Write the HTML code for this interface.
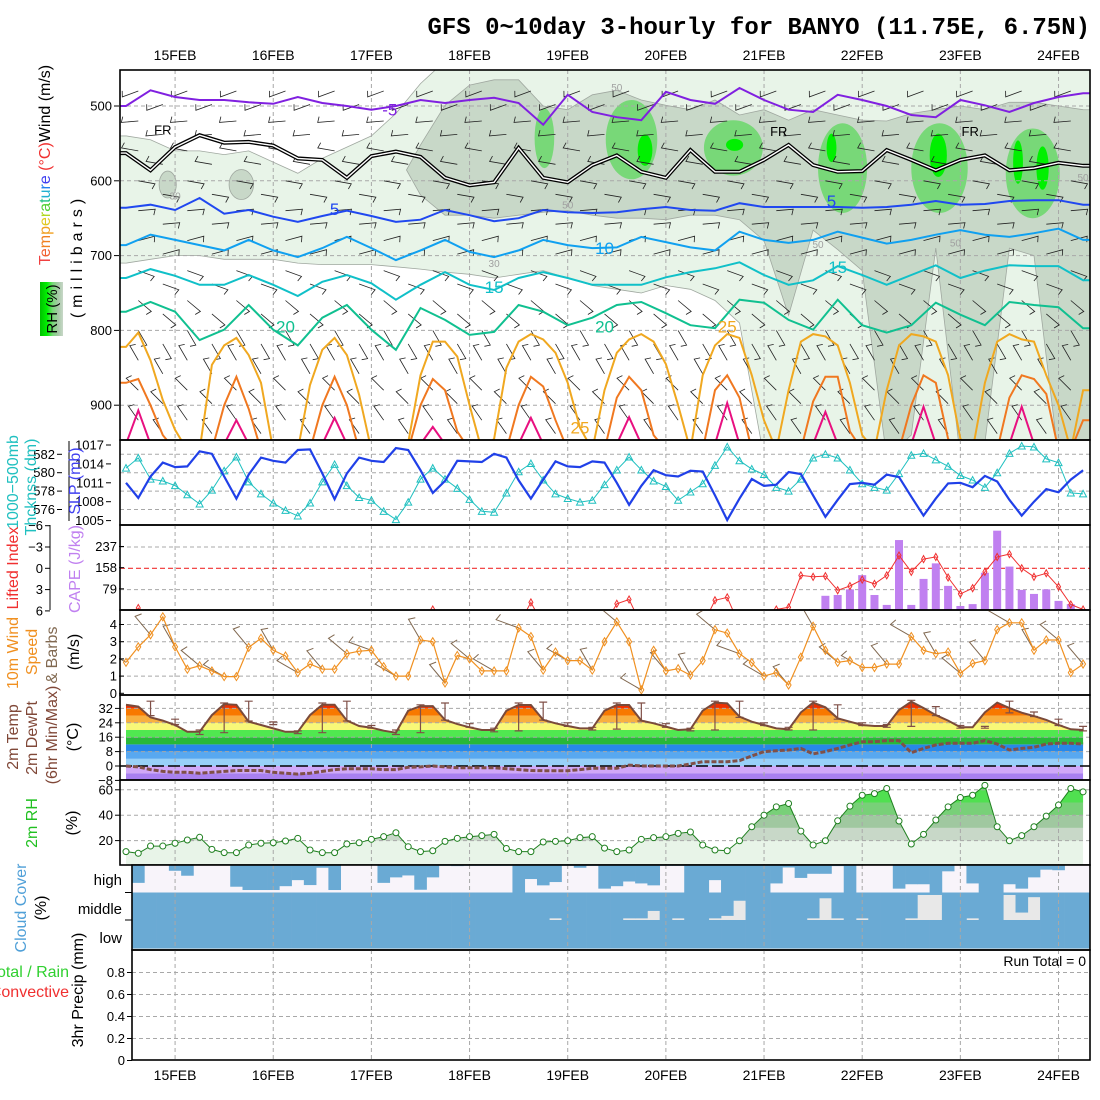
<!DOCTYPE html>
<html><head><meta charset="utf-8">
<style>body{margin:0;background:#fff}svg{display:block}text{font-family:"Liberation Sans",sans-serif}</style>
</head><body>
<svg id="c" width="1100" height="1100" viewBox="0 0 1100 1100">
<rect x="0" y="0" width="1100" height="1100" fill="#fff"/>
<text x="1090" y="34" text-anchor="end" font-weight="bold" font-size="24" style="font-family:'Liberation Mono',monospace">GFS 0~10day 3-hourly for BANYO (11.75E, 6.75N)</text>
</svg>
<script>
// ---------- data (3-hourly, index 0 = 14FEB 12Z) ----------
const days=['15FEB','16FEB','17FEB','18FEB','19FEB','20FEB','21FEB','22FEB','23FEB','24FEB'];
const slp=[1011,1008.6,1012,1014.2,1013.5,1013.6,1016,1015.6,1012,1008.5,1012.3,1015,1014.5,1014.2,1016.2,1016.3,1012.5,1008.4,1012.5,1015,1014.5,1014.3,1016.5,1016.2,1013,1009.4,1011.3,1014.5,1014.4,1014.3,1015.6,1015,1011.4,1008.5,1011.5,1014.4,1013.6,1013.5,1014.4,1014.2,1011,1007.5,1010.5,1013,1012.2,1012,1012.9,1012.8,1009,1005.1,1008.5,1011.6,1010.5,1010.7,1012.7,1012.4,1009,1005.6,1008.3,1010.8,1011,1010.7,1012.3,1011.9,1008.8,1005.8,1008.5,1010.9,1011,1010.3,1012.1,1011.2,1008.3,1005.8,1008,1010,1009.5,1011.5,1013];
const thick=[580.5,581.6,579.3,579.1,578.6,577.6,576.6,578.1,580.2,581.7,579,577.7,576.7,575.9,575.3,576.7,579,580.9,578.6,577.3,577,575.8,574.9,576.8,579.3,580.5,579.3,578.3,577.1,575.8,575.7,577.8,580.1,581,579.2,577.7,577.2,576.8,577,578.7,580.3,581.7,580.3,579.1,578.5,577,577.9,578.8,580.8,582.8,581.3,580.4,579.8,578.4,578,579.3,581.6,582,581.6,580.3,578.8,578.4,578.1,579.9,581.9,582.1,581.4,580.7,579.7,579.2,578.4,580,582.1,582.9,582.8,581.5,581.1,577.8,577.7];
const li=[8,5.6,8,8,8,8,8,8,8,8,8,8,8,8,8,8,8,8,8,8,8,8,8,8,8,5.8,8,8,8,8,8,8,8,4.8,8,8,8,8,8,8,5.0,4.4,8,8,8,8,8,8,4.5,4.1,8,8,8,5.8,5.5,1.0,1.2,1.1,3.1,2.5,1.6,2.2,1.0,-1.8,0.5,-1.3,-1.6,1.3,3.6,2.8,0.5,-1.6,-2.0,0,1.2,0.7,2.6,5.1,5.8];
const cape=[0,0,0,0,0,0,0,0,0,0,0,0,0,0,0,0,0,0,0,0,0,0,0,0,0,0,0,0,0,0,0,0,0,0,0,0,0,0,0,0,0,0,0,0,0,0,0,0,0,0,0,0,0,0,0,0,3,53,56,77,130,56,19,261,19,116,174,90,15,22,139,296,162,75,60,77,34,22,3];
const wspd=[1.8,2.7,3.4,4.45,2.7,1.4,1.6,1.3,0.97,0.97,2.67,3.2,2.5,2.17,1.2,1.7,1.4,1.4,2.3,2.45,2.5,1.55,1.0,1.0,3.1,3.0,0.6,2.2,2.0,1.3,1.3,1.3,3.8,3.3,1.35,2.4,1.9,1.9,1.35,3.0,4.15,3.0,0.2,2.5,1.3,1.43,1.06,1.9,3.7,3.5,2.3,1.78,1.0,1.2,0.48,2.1,3.9,2.5,1.8,1.9,1.5,1.5,1.7,1.7,3.3,2.5,2.3,2.4,1.16,1.74,1.9,3.7,4.1,4.1,2.5,3.1,3.1,1.2,1.7];
const wdir=[300,320,330,310,300,320,330,300,320,310,290,300,330,320,310,300,290,320,300,330,310,300,320,330,310,290,300,320,330,310,300,320,300,330,310,320,300,330,310,320];
const temp=[34,33,27,25.2,22.8,19,19,28.3,34.4,34,24.6,22.8,20.9,19,19,28.3,34,34,25.2,22.2,21.3,19.6,18.5,30.7,33.3,33.3,25.6,23.3,21.5,20,20,30.7,33.9,33.9,25.6,23.7,22.2,20.9,20.9,30.7,33.9,33.9,25.2,23.7,21.9,20,20.4,30.7,35.2,34.8,27.4,24.6,22.8,20.9,20.4,29.8,35.2,32.6,26.5,24.6,22.8,22.2,22.2,31.1,35.7,32.2,28.3,25.2,21.5,21.5,29.8,35.2,32.2,29.6,27.7,25.6,22.8,20.4,20];
const dewp=[0,-0.5,-2,-3,-3.5,-3.5,-4,-3.5,-3,-2.5,-2.5,-2.5,-3.5,-4,-4.5,-4,-3,-2,-1.5,-1.5,-1.5,-2,-2,-0.7,-0.5,0,-0.5,-1,-1,-1,-1,-1.5,-2,-2.5,-2.6,-2.6,-2.6,-2,-1.3,-1.3,-1.3,0.5,0,0,0,0,1.1,2.4,2.4,2.4,3,5.6,8,8.5,8.9,9.8,6.7,8,9.8,11.7,13.5,13.5,14.1,14.1,7.4,9.8,11.7,12.6,12.6,12.6,14.1,12.2,8.9,9.8,10.4,12.2,12.6,12.6,12.2];
const tbarIdx=[2,4,6,8,10,12,14,16,18,20,22,24,26,28,30,32,34,36,38,40,42,44,46,48,50,52,54,56,58,60,62,64,66,68,70,72,74,76,78];
const tbarHi=[36,26,20,35,36,24.5,19.5,35,36,22.5,20,34,35,23.5,21,35,35.5,24,21.5,35,35,23.5,21,36,36,24,21.5,36,34,24,23,36.5,33,22.5,22,36,30,26,22];
const tbarLo=[28,23,17.5,18.5,25,23,18,18.5,25,21,17.5,18.5,25.5,21.5,19,19.5,25.5,22,20,20.5,25,21.5,19.5,20,27,22.5,20,20,26,22.5,21.5,22,28,21,21,29.5,27.5,22.5,19.5];
const rh2m=[11.3,10,15.7,15.7,17.9,20.5,22.6,13.1,10.5,10.5,16.5,17.9,18.3,19.7,21.8,12.6,10.5,10.5,17.3,18.3,21,23.1,26.2,15.2,11.3,12,19.4,21.8,23.1,23.9,24.9,13.8,11.3,11.3,18.9,19.4,19.9,22.3,23.1,14.1,11.3,12.6,21,22.3,23.1,25.7,26.8,16.5,12.6,12,19.9,30.9,40,46.6,49.2,27.5,16.5,19.9,35.6,47.1,55.7,57,61,35.4,17.3,24.9,36.2,46.6,53.9,55.7,63.5,30.9,19.9,23.9,30.9,39.3,48,61,58.4];
const cloudHigh=[65,65,0,0,21,39,0,0,0,79,91,91,91,77,55,73,10,91,0,0,0,65,45,38,90,45,3,4,3,3,3,3,100,51,74,62,3,10,3,86,77,60,67,74,3,3,100,100,55,100,100,100,100,67,9,47,32,32,4,100,0,0,0,86,70,70,100,23,0,67,100,100,70,86,45,17,19,0,0];
const cloudMid=[100,100,100,100,100,100,100,100,100,100,100,100,100,100,100,100,100,100,100,100,100,100,100,100,100,100,100,100,100,100,100,100,100,100,100,94,100,100,100,100,100,94,94,67,100,94,100,100,94,85,30,100,100,100,100,100,94,21,94,100,94,100,100,100,94,9,9,100,100,94,100,100,9,73,17,100,100,100,100];
const cloudLow=[100,100,100,100,100,100,100,100,100,100,100,100,100,100,100,100,100,100,100,100,100,100,100,100,100,100,100,100,100,100,100,100,100,100,100,100,100,100,100,100,100,100,100,100,100,100,100,100,100,100,100,100,100,100,100,100,100,100,100,100,100,100,100,100,100,100,100,100,100,100,100,100,100,100,100,100,100,100,100];
// upper-air contours (6-hourly, mb)
const pM5=[500,479,488,492,492,495,497,488,496,500,505,500,492,496,492,489,496,525,485,508,515,519,481,492,497,476,492,505,508,485,492,500,512,515,492,499,508,496,488,483];
const p0=[563,586,555,539,549,548,553,570,572,596,567,561,568,596,606,602,556,596,602,579,566,588,596,559,588,588,572,552,579,588,587,559,572,586,572,566,586,583,576,580];
const p5=[636,632,639,623,644,639,648,655,647,640,647,655,652,639,646,654,650,639,642,643,642,638,635,639,640,630,635,635,635,635,636,635,632,627,632,631,627,626,626,632];
const p10=[686,672,679,686,693,679,693,702,690,675,690,706,693,679,695,702,693,679,686,690,689,675,682,689,693,668,679,683,679,668,676,684,679,672,666,672,675,670,664,679];
const p15=[730,718,727,739,739,726,739,754,735,726,737,759,739,722,739,746,730,722,730,739,739,739,729,722,717,709,726,739,733,714,726,739,726,713,730,720,713,714,714,733];
const p20=[775,762,775,813,799,766,799,820,783,766,799,826,770,786,806,802,766,775,793,783,766,762,777,793,797,759,763,786,799,759,793,803,793,763,779,793,762,766,769,797];
// 3-hourly low-level contours (mb, 960 = below ground)
const p25=[822,803,840,893,933,960,960,846,820,810,833,870,960,960,960,873,826,810,833,886,960,960,960,950,860,815,815,835,900,960,945,850,815,805,812,830,870,930,960,880,830,812,805,815,845,900,960,860,820,805,810,860,920,960,880,815,805,808,820,870,940,960,880,820,805,808,815,860,945,960,870,815,805,812,815,860,900,960,880];
const p30=[870,865,900,940,960,960,960,960,900,862,905,960,960,960,960,960,900,862,900,960,960,960,960,960,900,865,880,935,960,960,960,960,900,862,875,920,960,960,960,960,890,862,880,940,960,960,960,960,880,860,890,960,960,960,960,960,895,862,862,935,960,960,960,960,900,860,870,945,960,960,960,960,890,860,865,885,960,960,920];
const p35=[952,907,952,960,960,960,960,960,952,920,952,960,960,960,960,960,952,917,952,960,960,960,960,960,952,929,952,960,960,960,960,960,952,917,952,960,960,960,960,960,952,916,952,960,960,960,960,960,952,897,952,960,960,960,960,960,952,909,952,960,960,960,960,960,952,902,952,960,960,960,960,960,952,902,952,960,960,960,960];
// RH shading bounds (6-hourly, mb; null = none)
const rh30Top=[540,545,560,560,565,560,575,590,570,555,540,510,470,440,440,440,440,440,440,440,440,440,440,440,440,440,440,440,440,440,440,440,440,440,440,440,440,440,440,440];
const rh30Bot=[710,705,700,700,705,705,705,710,712,712,712,715,718,722,725,730,725,720,730,740,745,750,740,745,760,790,970,970,970,970,970,970,970,970,970,970,970,970,970,970];
const rh50Top=[null,null,null,null,null,null,null,null,null,null,null,null,552,499,472,465,465,500,505,485,479,492,499,505,492,512,505,519,505,512,519,520,510,505,500,505,495,495,500,505];
const rh50Bot=[null,null,null,null,null,null,null,null,null,null,null,null,619,646,646,650,646,642,640,646,650,650,652,646,646,652,680,780,666,692,720,970,940,690,970,950,690,700,970,970];
const rhBlobT=[3.4,9.4,41.2,49.5,58.4,66.3,73.9];
const rhBlobP=[605,605,545,556,583,583,590];
const rhBlobRT=[0.7,1.0,2.1,2.4,2.0,2.3,2.2];
const rhBlobRP=[18,20,53,37,60,60,60];
const rh70T=[34.1,41.2,49.5,58.4,66.3,73.9];
const rh70P=[543,545,556,583,583,590];
const rh70RT=[0.8,2.1,2.4,2.0,2.3,2.2];
const rh70RP=[40,53,37,60,60,60];
const rh90T=[42.3,49.6,57.5,66.2,72.7,74.7];
const rh90P=[559,552,556,566,575,583];
const rh90RT=[0.6,0.7,0.4,0.7,0.4,0.5];
const rh90RP=[21,8,19,29,29,29];
const barbLevels=[480,520,560,600,640,680,720,760,800,840,880,920];
const barbDir=[250,265,280,100,85,75,110,130,150,330,315,325];
const pTicks=[500,600,700,800,900];
const slpTicks=[1017,1014,1011,1008,1005];
const thTicks=[582,580,578,576];
const liTicks=[-6,-3,0,3,6];
const capeTicks=[237,158,79];
const wTicks=[4,3,2,1,0];
const tTicks=[32,24,16,8,0,-8];
const rhTicks=[60,40,20];
const prTicks=[0.8,0.6,0.4,0.2,0];

// ---------- helpers ----------
const svg=document.getElementById('c');
const NS='http://www.w3.org/2000/svg';
function mk(tag,a,name,par){const e=document.createElementNS(NS,tag);for(const k in a)e.setAttribute(k,a[k]);


(par||svg).appendChild(e);return e;}
function txt(s,a,name,par){const e=mk('text',a,name,par);e.textContent=s;return e;}
const X=i=>126+i*12.27;
const P=p=>106+(p-500)*0.748;
const ySlp=v=>445+(1017-v)*6.3;
const yTh=v=>454.3+(582-v)*9.2;
const yLI=v=>568.3+v*7.1;
const yCape=v=>610-v*0.268;
const yW=v=>693.3-v*17.2;
const yT=v=>766-v*1.8;
const yRH=v=>866-v*1.27;
const yPr=v=>1060.5-v*110;
function line(arr,fy,step){step=step||1;const p=arr.map((v,i)=>X(i*step).toFixed(1)+','+fy(v).toFixed(1));
p.unshift(X(-0.6).toFixed(1)+','+fy(arr[0]).toFixed(1));p.push((X((arr.length-1)*step)+10).toFixed(1)+','+fy(arr[arr.length-1]).toFixed(1));return p.join(' ');}
const defs=mk('defs',{},'defs');
function clip(id,x,y,w,h){const c=mk('clipPath',{id:id},id,defs);mk('rect',{x:x,y:y,width:w,height:h},id+'-rect',c);}
clip('cTop',120,70,970,370);clip('cSlp',120,440,970,85);clip('cCape',120,525,970,85);clip('cW',120,610,970,85);
clip('cT',120,695,970,85);clip('cRH',120,780,970,85);clip('cCl',132,865,958,85);clip('cPr',132,950,958,110);
const dash='#a8a8a8';
function hgrid(g,ys,x0,name){ys.forEach(y=>mk('line',{x1:x0,x2:1090,y1:y,y2:y,stroke:dash,'stroke-dasharray':'4,3','stroke-width':1},name,g));}
function vgrid(g,y0,y1,name){days.forEach((d,k)=>{const x=X(4+8*k);mk('line',{x1:x,x2:x,y1:y0,y2:y1,stroke:dash,'stroke-dasharray':'4,3','stroke-width':1},name,g);});}
function rot(s,x,y,fill,size,name,extra){const a={x:x,y:y,'text-anchor':'middle','font-size':size||15,fill:fill||'#000',transform:'rotate(-90 '+x+' '+y+')'};if(extra)Object.assign(a,extra);return txt(s,a,name);}
function tickLbl(arr,fy,xr,name,fill){arr.forEach(v=>{txt(String(v).replace('-','−'),{x:xr,y:fy(v)+4.5,'text-anchor':'end','font-size':13,fill:fill||'#000'},name);mk('line',{x1:xr+2,x2:xr+7,y1:fy(v),y2:fy(v),stroke:'#000','stroke-width':1},name+'-tick');});}
function frame(x,y,w,h,name){mk('rect',{x:x,y:y,width:w,height:h,fill:'none',stroke:'#000','stroke-width':1.6},name);}

// ---------- date labels ----------
days.forEach((d,k)=>{txt(d,{x:X(4+8*k),y:60,'text-anchor':'middle','font-size':14},'top-date-label');
txt(d,{x:X(4+8*k),y:1080,'text-anchor':'middle','font-size':14},'bottom-date-label');});

// ---------- top panel ----------
const gTop=mk('g',{'clip-path':'url(#cTop)'},'upper-air-panel');
(function(){const t=rh30Top.map((v,k)=>X(2*k).toFixed(1)+','+P(v).toFixed(1));const b=rh30Bot.map((v,k)=>X(2*k).toFixed(1)+','+P(v).toFixed(1)).reverse();
t.unshift('118,'+P(rh30Top[0]));t.push('1095,'+P(rh30Top[39]));b.unshift('1095,'+P(rh30Bot[39]));b.push('118,'+P(rh30Bot[0]));
mk('polygon',{points:t.concat(b).join(' '),fill:'#e8f4e8',stroke:'#a0a8a0','stroke-width':0.8},'rh-30-shading',gTop);})();
rhBlobT.forEach((t,j)=>{mk('ellipse',{cx:X(t),cy:P(rhBlobP[j]),rx:rhBlobRT[j]*12.27,ry:rhBlobRP[j]*0.748,fill:'#c8d8c8',stroke:'#a0a8a0','stroke-width':0.8},'rh-50-patch',gTop);});
(function(){let seg=[];const segs=[];rh50Top.forEach((v,k)=>{if(v===null){if(seg.length)segs.push(seg);seg=[];}else seg.push(k);});if(seg.length)segs.push(seg);
segs.forEach(s=>{const t=s.map(k=>X(2*k).toFixed(1)+','+P(rh50Top[k]).toFixed(1));const b=s.map(k=>X(2*k).toFixed(1)+','+P(rh50Bot[k]).toFixed(1)).reverse();
const f=s[0],l=s[s.length-1];t.unshift((X(2*f)-14)+','+P((rh50Top[f]+rh50Bot[f])/2));t.push('1095,'+P(rh50Top[l]));b.unshift('1095,'+P(rh50Bot[l]));
mk('polygon',{points:t.concat(b).join(' '),fill:'#c8d8c8',stroke:'#a0a8a0','stroke-width':0.8},'rh-50-shading',gTop);});})();
rh70T.forEach((t,j)=>{mk('ellipse',{cx:X(t),cy:P(rh70P[j]),rx:rh70RT[j]*12.27,ry:rh70RP[j]*0.748,fill:'#78d878'},'rh-70-shading',gTop);});
rh90T.forEach((t,j)=>{mk('ellipse',{cx:X(t),cy:P(rh90P[j]),rx:rh90RT[j]*12.27,ry:rh90RP[j]*0.748,fill:'#00f000'},'rh-90-shading',gTop);});
hgrid(gTop,pTicks.map(P),120,'pressure-gridline');vgrid(gTop,70,440,'day-gridline');
for(let i=1;i<79;i+=2){barbLevels.forEach((p,j)=>{const off=((i-1)/2)%2?18:0;const d=barbDir[j]*Math.PI/180,x=X(i),y=P(p+off);const ex=x+Math.sin(d)*17,ey=y-Math.cos(d)*17;
const tx=ex+Math.sin(d+1.9)*6,ty=ey-Math.cos(d+1.9)*6;
mk('polyline',{points:x.toFixed(1)+','+y.toFixed(1)+' '+ex.toFixed(1)+','+ey.toFixed(1)+' '+tx.toFixed(1)+','+ty.toFixed(1),fill:'none',stroke:'#222','stroke-width':0.8},'wind-barb',gTop);});}
mk('polyline',{points:line(pM5,P,2),fill:'none',stroke:'#8020e0','stroke-width':2},'contour-minus5',gTop);
mk('polyline',{points:line(p0,P,2),fill:'none',stroke:'#000','stroke-width':4},'freezing-level-outer',gTop);
mk('polyline',{points:line(p0,P,2),fill:'none',stroke:'#fff','stroke-width':1.4},'freezing-level-inner',gTop);
mk('polyline',{points:line(p5,P,2),fill:'none',stroke:'#2048f0','stroke-width':2},'contour-5',gTop);
mk('polyline',{points:line(p10,P,2),fill:'none',stroke:'#10a0f0','stroke-width':2},'contour-10',gTop);
mk('polyline',{points:line(p15,P,2),fill:'none',stroke:'#10c0c8','stroke-width':2},'contour-15',gTop);
mk('polyline',{points:line(p20,P,2),fill:'none',stroke:'#10c090','stroke-width':2},'contour-20',gTop);
mk('polyline',{points:line(p25,P),fill:'none',stroke:'#f0a820','stroke-width':2},'contour-25',gTop);
mk('polyline',{points:line(p30,P),fill:'none',stroke:'#f07820','stroke-width':2},'contour-30',gTop);
mk('polyline',{points:line(p35,P),fill:'none',stroke:'#e81080','stroke-width':2},'contour-35',gTop);
[['-5',21.5,505,'#8020e0'],['5',17,638,'#2048f0'],['5',57.5,627,'#2048f0'],['10',39,690,'#10a0f0'],['15',30,742,'#10c0c8'],['15',58,715,'#10c0c8'],['20',13,795,'#10c090'],['20',39,795,'#10c090'],['25',49,795,'#f0a820'],['25',37,930,'#f0a820']].forEach(l=>{
txt(l[0],{x:X(l[1]),y:P(l[2])+6,'text-anchor':'middle','font-size':17,fill:l[3]},'contour-label',gTop);});
[[3,538],[53.2,540],[68.8,540]].forEach(l=>txt('FR',{x:X(l[0]),y:P(l[1]),'text-anchor':'middle','font-size':13,fill:'#000'},'freezing-level-label',gTop));
[['30',4,625],['30',30,715],['50',40,480],['50',36,637],['50',56.4,690],['50',67.6,688],['50',78,600]].forEach(l=>txt(l[0],{x:X(l[1]),y:P(l[2]),'text-anchor':'middle','font-size':10,fill:'#a0a0a0'},'rh-contour-label',gTop));
frame(120,70,970,370,'upper-air-frame');
tickLbl(pTicks,P,112,'pressure-tick-label');
// top-panel left labels
(function(){const x=50,y=165;const t=mk('text',{x:x,y:y,'text-anchor':'middle','font-size':16,transform:'rotate(-90 '+x+' '+y+')'},'temperature-wind-axis-title');
const cols=['#f04040','#f06030','#f08020','#f0a020','#e0c820','#b0d820','#50d030','#20c080','#20b0d0','#2080f0','#4040f0'];
'Temperature'.split('').forEach((c,k)=>{const s=mk('tspan',{fill:cols[k]},'temperature-letter',t);s.textContent=c;});
const s2=mk('tspan',{fill:'#f03030'},'celsius-unit',t);s2.textContent=' (°C)';const s3=mk('tspan',{fill:'#000'},'wind-unit',t);s3.textContent='Wind (m/s)';})();
(function(){const gr=mk('linearGradient',{id:'rhg',x1:'0',x2:'1',y1:'0',y2:'0'},'rh-gradient',defs);
[['0','#00c000'],['0.3','#00f000'],['0.55','#78d878'],['0.8','#a8c8a8'],['1','#c8d8c8']].forEach(s=>mk('stop',{offset:s[0],'stop-color':s[1]},'rh-gradient-stop',gr));
mk('rect',{x:40,y:282,width:23,height:54,fill:'url(#rhg)'},'rh-legend-box');})();
rot('RH (%)',57,309,'#000',15,'rh-legend-label');
rot('(millibars)',82,256,'#000',16,'pressure-axis-title',{'letter-spacing':'5'});

// ---------- SLP / thickness ----------
const gS=mk('g',{'clip-path':'url(#cSlp)'},'slp-panel');
hgrid(gS,thTicks.map(yTh),120,'thickness-gridline');vgrid(gS,440,525,'day-gridline');
mk('polyline',{points:thick.map((v,i)=>X(i).toFixed(1)+','+yTh(v).toFixed(1)).join(' '),fill:'none',stroke:'#20c0c0','stroke-width':1},'thickness-line',gS);
thick.forEach((v,i)=>{const x=X(i),y=yTh(v);mk('polygon',{points:(x-3.5)+','+(y+3)+' '+(x+3.5)+','+(y+3)+' '+x+','+(y-3.5),fill:'none',stroke:'#20c0c0','stroke-width':1},'thickness-marker',gS);});
mk('polyline',{points:slp.map((v,i)=>X(i).toFixed(1)+','+ySlp(v).toFixed(1)).join(' '),fill:'none',stroke:'#2040e8','stroke-width':2.2},'slp-line',gS);
frame(120,440,970,85,'slp-frame');
tickLbl(slpTicks,ySlp,104,'slp-tick-label');tickLbl(thTicks,yTh,55,'thickness-tick-label');
mk('line',{x1:69,x2:69,y1:441,y2:521,stroke:'#000','stroke-width':1},'thickness-axis-line');
rot('1000−500mb',18,482,'#20c0c0',16,'thickness-title-1');rot('Thcknss (dm)',36,487,'#20c0c0',16,'thickness-title-2');rot('SLP (mb)',80,481,'#4040f0',16,'slp-title');

// ---------- CAPE / LI ----------
const gC=mk('g',{'clip-path':'url(#cCape)'},'cape-panel');
hgrid(gC,[yLI(-3),yLI(3)],120,'li-gridline');vgrid(gC,525,610,'day-gridline');
mk('line',{x1:120,x2:1090,y1:yLI(0),y2:yLI(0),stroke:'#f03030','stroke-dasharray':'5,3','stroke-width':1.2},'li-zero-line',gC);
cape.forEach((v,i)=>{if(v>0)mk('rect',{x:X(i)-4,y:yCape(v),width:8,height:610-yCape(v),fill:'#c080f0'},'cape-bar',gC);});
mk('polyline',{points:li.map((v,i)=>X(i).toFixed(1)+','+yLI(v).toFixed(1)).join(' '),fill:'none',stroke:'#f03030','stroke-width':1},'lifted-index-line',gC);
li.forEach((v,i)=>{if(v<6){const x=X(i),y=yLI(v);mk('polygon',{points:x+','+(y-3.5)+' '+(x+2)+','+y+' '+x+','+(y+3.5)+' '+(x-2)+','+y,fill:'none',stroke:'#f03030','stroke-width':1},'li-marker',gC);}});
frame(120,525,970,85,'cape-frame');
tickLbl(capeTicks,yCape,117,'cape-tick-label');tickLbl(liTicks,yLI,43,'li-tick-label');
mk('line',{x1:50,x2:50,y1:525,y2:610,stroke:'#000','stroke-width':1},'li-axis-line');
rot('Lifted Index',18,568,'#f03030',16,'li-title');rot('CAPE (J/kg)',80,569,'#c080f0',16,'cape-title');

// ---------- 10m wind ----------
const gW=mk('g',{'clip-path':'url(#cW)'},'wind-panel');
hgrid(gW,[1,2,3,4].map(yW),120,'wind-gridline');vgrid(gW,610,695,'day-gridline');
wdir.forEach((d,k)=>{const i=2*k,x=X(i),y=yW(wspd[i]),r=d*Math.PI/180;const ex=x+Math.sin(r)*24,ey=y-Math.cos(r)*24;const tx=ex+Math.sin(r+1.9)*7,ty=ey-Math.cos(r+1.9)*7;
mk('polyline',{points:x.toFixed(1)+','+y.toFixed(1)+' '+ex.toFixed(1)+','+ey.toFixed(1)+' '+tx.toFixed(1)+','+ty.toFixed(1),fill:'none',stroke:'#806850','stroke-width':1},'wind-10m-barb',gW);});
mk('polyline',{points:wspd.map((v,i)=>X(i).toFixed(1)+','+yW(v).toFixed(1)).join(' '),fill:'none',stroke:'#f09020','stroke-width':1.2},'wind-speed-line',gW);
wspd.forEach((v,i)=>{const x=X(i),y=yW(v);mk('polygon',{points:x+','+(y-4)+' '+(x+2.5)+','+y+' '+x+','+(y+4)+' '+(x-2.5)+','+y,fill:'none',stroke:'#f09020','stroke-width':1},'wind-speed-marker',gW);});
frame(120,610,970,85,'wind-frame');
tickLbl(wTicks,yW,117,'wind-tick-label');
rot('10m Wind',18,653,'#f09020',16,'wind-title-1');rot('Speed',37,652,'#f09020',16,'wind-title-2');rot('& Barbs',57,655,'#806850',16,'wind-title-3');rot('(m/s)',79,652,'#000',16,'wind-unit-label');

// ---------- 2m temperature ----------
const gT=mk('g',{'clip-path':'url(#cT)'},'temperature-panel');
(function(){const c=mk('clipPath',{id:'cTfill'},'temp-fill-clip',defs);
const p=temp.map((v,i)=>X(i).toFixed(1)+','+yT(v).toFixed(1));p.push(X(78)+','+yT(-8.5));p.push(X(0)+','+yT(-8.5));
mk('polygon',{points:p.join(' ')},'temp-fill-clip-shape',c);
const g=mk('g',{'clip-path':'url(#cTfill)'},'temperature-bands',gT);
[[-8,-4,'#a880f0'],[-4,0,'#d0a8f8'],[0,4,'#98d0f8'],[4,8,'#58a8f0'],[8,12,'#2888e8'],[12,16,'#28b838'],[16,20,'#50e850'],[20,24,'#f8f878'],[24,28,'#f8b040'],[28,32,'#f87800'],[32,40,'#f03000']].forEach(b=>{
mk('rect',{x:120,y:yT(b[1]),width:970,height:yT(b[0])-yT(b[1]),fill:b[2]},'temperature-band',g);});})();
hgrid(gT,[8,16,24,32].map(yT),120,'temp-gridline');vgrid(gT,695,780,'day-gridline');
mk('line',{x1:120,x2:1090,y1:yT(0),y2:yT(0),stroke:'#000','stroke-width':1.4,'stroke-dasharray':'12,4'},'zero-degree-line',gT);
tbarIdx.forEach((i,k)=>{const x=X(i);mk('path',{d:'M'+x+' '+yT(tbarHi[k])+'V'+yT(tbarLo[k])+'M'+(x-4)+' '+yT(tbarHi[k])+'h8M'+(x-4)+' '+yT(tbarLo[k])+'h8',stroke:'#805048','stroke-width':1.2,fill:'none'},'temp-minmax-bar',gT);});
mk('polyline',{points:temp.map((v,i)=>X(i).toFixed(1)+','+yT(v).toFixed(1)).join(' '),fill:'none',stroke:'#7a4a3a','stroke-width':2},'temperature-line',gT);
mk('polyline',{points:dewp.map((v,i)=>X(i).toFixed(1)+','+yT(v).toFixed(1)).join(' '),fill:'none',stroke:'#805048','stroke-width':3,'stroke-dasharray':'5,2'},'dewpoint-line',gT);
frame(120,695,970,85,'temperature-frame');
tickLbl(tTicks,yT,113,'temp-tick-label');
rot('2m Temp',18,737,'#804838',16,'temp-title-1');rot('2m DewPt',37,738,'#804838',16,'temp-title-2');rot('(6hr Min/Max)',57,735,'#804838',16,'temp-title-3');rot('(°C)',78,737,'#000',16,'temp-unit-label');

// ---------- 2m RH ----------
const gR=mk('g',{'clip-path':'url(#cRH)'},'rh-panel');
(function(){const c=mk('clipPath',{id:'cRHfill'},'rh-fill-clip',defs);
const p=rh2m.map((v,i)=>X(i).toFixed(1)+','+yRH(v).toFixed(1));p.push(X(78)+',866');p.push(X(0)+',866');
mk('polygon',{points:p.join(' ')},'rh-fill-clip-shape',c);
const g=mk('g',{'clip-path':'url(#cRHfill)'},'rh-bands',gR);
[[0,20,'#e8f4e8'],[20,30,'#c8d8c8'],[30,40,'#a0c8a0'],[40,50,'#78d078'],[50,60,'#50e050'],[60,100,'#30e030']].forEach(b=>{
mk('rect',{x:120,y:yRH(b[1]),width:970,height:yRH(b[0])-yRH(b[1]),fill:b[2]},'rh-band',g);});})();
hgrid(gR,rhTicks.map(yRH),120,'rh-gridline');vgrid(gR,780,865,'day-gridline');
mk('polyline',{points:rh2m.map((v,i)=>X(i).toFixed(1)+','+yRH(v).toFixed(1)).join(' '),fill:'none',stroke:'#208020','stroke-width':1},'rh-line',gR);
rh2m.forEach((v,i)=>mk('circle',{cx:X(i),cy:yRH(v),r:3,fill:'#fff',stroke:'#208020','stroke-width':1},'rh-marker',gR));
frame(120,780,970,85,'rh-frame');
tickLbl(rhTicks,yRH,113,'rh-tick-label');
rot('2m RH',37,823,'#20c020',16,'rh-title');rot('(%)',77,823,'#000',16,'rh-unit-label');

// ---------- cloud cover ----------
const gCl=mk('g',{'clip-path':'url(#cCl)'},'cloud-panel');
mk('rect',{x:132,y:865,width:958,height:27.5,fill:'#f8f4fa'},'high-cloud-background',gCl);
mk('rect',{x:132,y:892.5,width:958,height:57.5,fill:'#e8e8e8'},'mid-low-cloud-background',gCl);
[[cloudHigh,865,27.5,'high-cloud-bar'],[cloudMid,892.5,27.5,'mid-cloud-bar'],[cloudLow,920,28.5,'low-cloud-bar']].forEach(r=>{
r[0].forEach((v,i)=>{if(v>0)mk('rect',{x:X(i)-6.2,y:r[1],width:12.6,height:v/100*r[2],fill:'#6aaad4'},r[3],gCl);});});
vgrid(gCl,865,950,'day-gridline');
frame(132,865,958,85,'cloud-frame');
[['high',880],['middle',909],['low',938]].forEach(l=>{txt(l[0],{x:122,y:l[1]+5,'text-anchor':'end','font-size':15},'cloud-level-label');});
[892.5,920].forEach(y=>mk('line',{x1:125,x2:132,y1:y,y2:y,stroke:'#000'},'cloud-tick'));
rot('Cloud Cover',26,908,'#50a0d8',16,'cloud-title');rot('(%)',46,908,'#000',16,'cloud-unit-label');

// ---------- precip ----------
const gP=mk('g',{'clip-path':'url(#cPr)'},'precip-panel');
hgrid(gP,[0.2,0.4,0.6,0.8].map(yPr),132,'precip-gridline');vgrid(gP,950,1060,'day-gridline');
frame(132,950,958,110,'precip-frame');
tickLbl(prTicks,yPr,125,'precip-tick-label');
txt('Run Total = 0',{x:1086,y:966,'text-anchor':'end','font-size':14},'run-total-label');
txt('Total / Rain',{x:69,y:977,'text-anchor':'end','font-size':16,fill:'#30d030'},'precip-legend-rain');
txt('Convective',{x:69,y:997,'text-anchor':'end','font-size':16,fill:'#f03030'},'precip-legend-convective');
rot('3hr Precip (mm)',83,990,'#000',16,'precip-title');
</script>
</body></html>
